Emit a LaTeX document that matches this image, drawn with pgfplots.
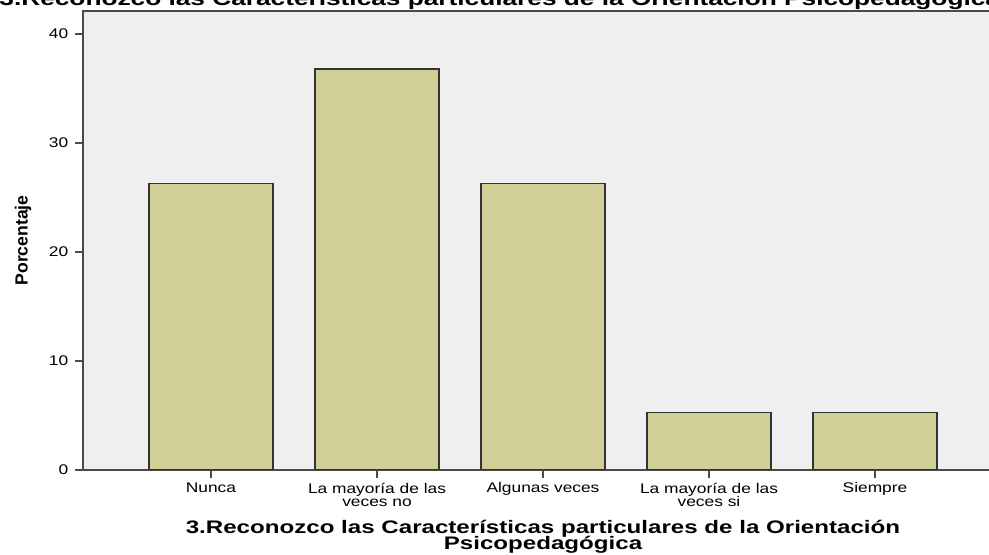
\documentclass[border=0pt]{standalone}
\usepackage{fontspec}
\setmainfont{Liberation Sans}
\newfontfamily\tickfont{Liberation Sans}[FakeStretch=1.24]
\newfontfamily\labfont{Liberation Sans}[FakeStretch=1.33]
\usepackage{pgfplots}
\pgfplotsset{compat=1.18}
\newcommand\tightls{\lineskiplimit=-100pt\relax}
\definecolor{bgc}{HTML}{EFEFEF}
\definecolor{barc}{HTML}{D2CE98}
\definecolor{linec}{HTML}{4A4A4A}
\begin{document}
\begin{tikzpicture}
\begin{axis}[
  scale only axis,
  width=690pt, height=344.25pt,
  xmin=-0.771, xmax=4.771,
  ymin=0, ymax=42.11,
  axis background/.style={fill=bgc},
  axis line style={linec, line width=1pt},
  tick align=outside,
  xtick pos=bottom, ytick pos=left,
  major tick length=6pt,
  tick style={linec, line width=1pt},
  xtick={0,1,2,3,4},
  xticklabels={Nunca,{La mayoría de las\\veces no},Algunas veces,{La mayoría de las\\veces si},Siempre},
  xticklabel style={align=center, font=\tickfont\fontsize{10.5}{9.8}\selectfont\tightls, text=black},
  ytick={0,10,20,30,40},
  yticklabel style={font=\tickfont\fontsize{10.5}{9}\selectfont, xshift=-1.5pt},
  /pgf/number format/assume math mode=true,
  every axis title shift=0pt,
  title={3.Reconozco las Características particulares de la Orientación Psicopedagógica},
  title style={at={(axis description cs:0.453,1)}, anchor=base, yshift=3.75pt, inner sep=0pt,
    font=\labfont\bfseries\fontsize{14.8}{14}\selectfont},
  xlabel={3.Reconozco las Características particulares de la Orientación\\Psicopedagógica},
  xlabel style={at={(axis description cs:0.5,0)}, anchor=north, yshift=-37.5pt, inner sep=0pt, align=center,
    font=\labfont\bfseries\fontsize{13.6}{12.3}\selectfont\tightls},
  ylabel={Porcentaje},
  ylabel style={at={(axis description cs:-0.0652,0.5)}, anchor=center, inner sep=0pt,
    font=\bfseries\fontsize{13.2}{12}\selectfont},
  ybar, bar width=93pt,
]
\addplot[fill=barc, draw=black!80, line width=1pt] coordinates {(0,26.3) (1,36.8) (2,26.3) (3,5.3) (4,5.3)};
\coordinate (SW) at (rel axis cs:0,0);
\end{axis}
\pgfresetboundingbox
\path[use as bounding box] ([xshift=-62.25pt,yshift=-63.75pt]SW) rectangle ([xshift=679.5pt,yshift=352.5pt]SW);
\end{tikzpicture}
\end{document}
